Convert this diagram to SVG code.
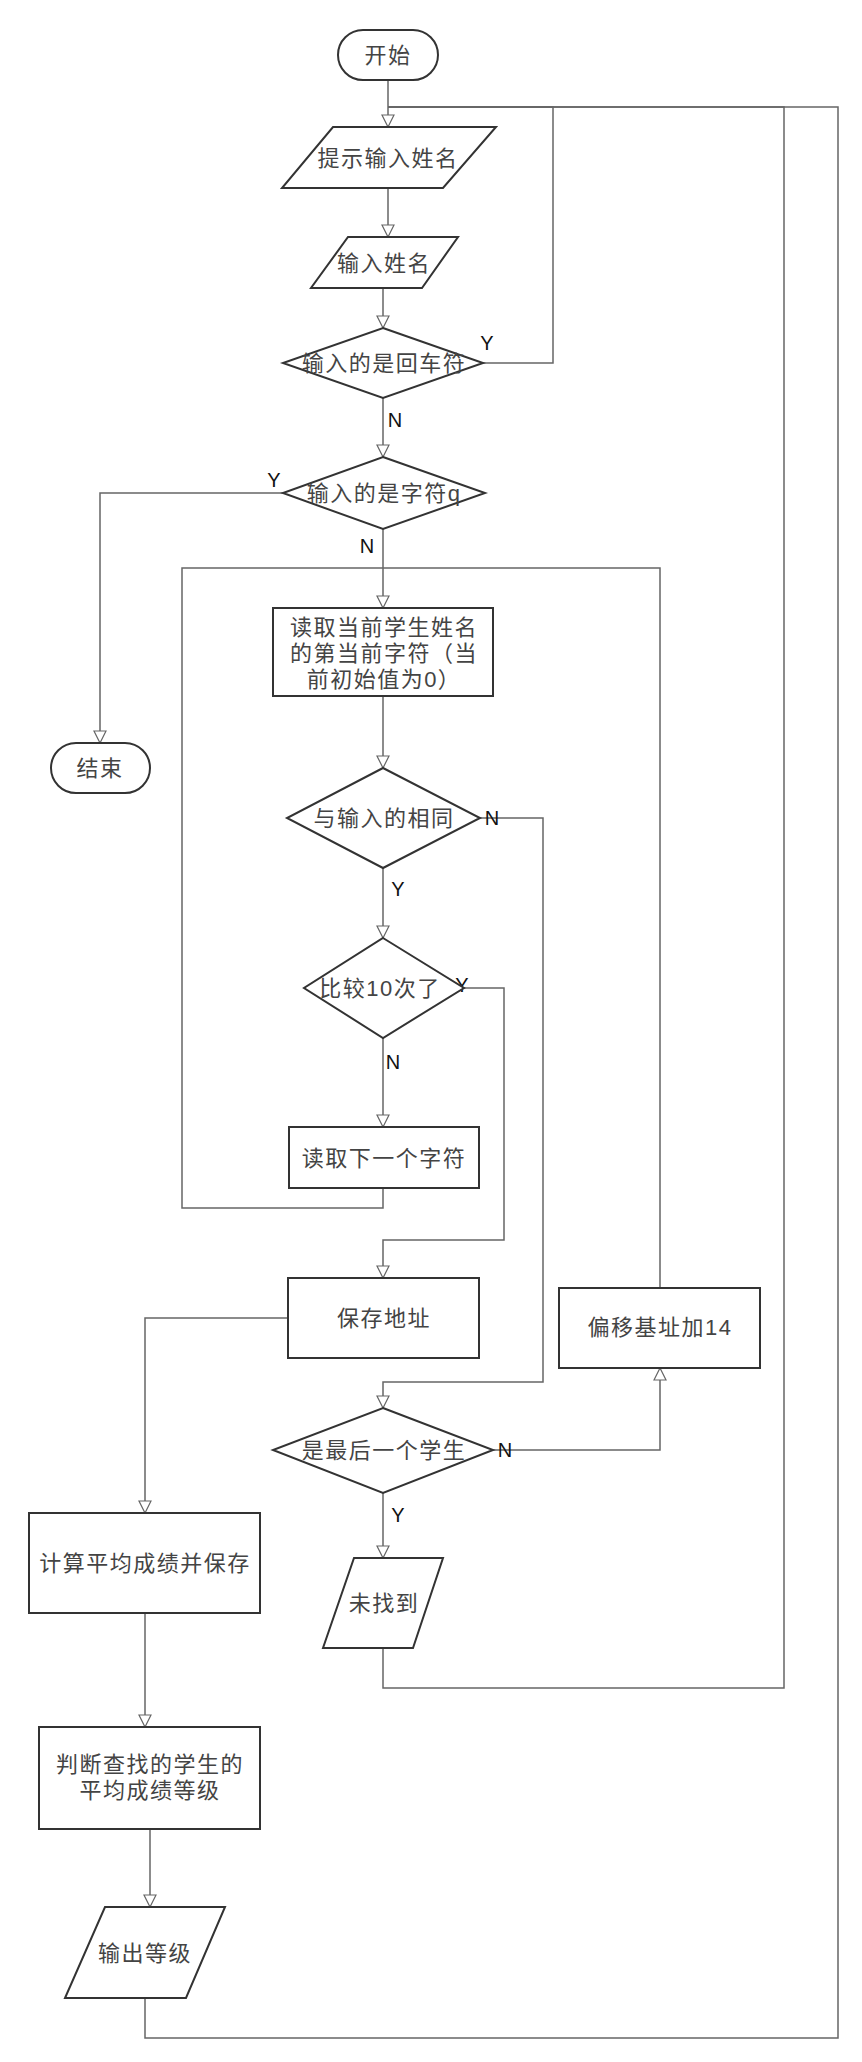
<svg xmlns="http://www.w3.org/2000/svg" width="862" height="2062" viewBox="0 0 862 2062">
<defs>
<marker id="arr" markerUnits="userSpaceOnUse" markerWidth="14" markerHeight="14" viewBox="-1 -1 14 14" refX="12" refY="6" orient="auto">
<path d="M0,0 L12,6 L0,12 z" fill="#fff" stroke="#666" stroke-width="1.2"/>
</marker>
<style>
.s{fill:#fff;stroke:#333;stroke-width:2}
.c{fill:none;stroke:#666;stroke-width:1.5}
.t{font-family:"Liberation Sans","Noto Sans CJK SC",sans-serif;font-size:22px;fill:#444;text-anchor:middle;dominant-baseline:central;letter-spacing:1.5px}
.l{font-family:"Liberation Sans",Arial,sans-serif;font-size:20px;fill:#111;text-anchor:middle;dominant-baseline:central}
</style>
</defs>
<rect width="862" height="2062" fill="#fff"/>
<g id="connectors">
<path class="c" d="M388,80 V127" marker-end="url(#arr)"/>
<path class="c" d="M388,188 V237" marker-end="url(#arr)"/>
<path class="c" d="M383,288 V328" marker-end="url(#arr)"/>
<path class="c" d="M483,363 H553 V107 H388"/>
<path class="c" d="M383,398 V457" marker-end="url(#arr)"/>
<path class="c" d="M283,493 H100 V743" marker-end="url(#arr)"/>
<path class="c" d="M383,529 V608" marker-end="url(#arr)"/>
<path class="c" d="M383,696 V768" marker-end="url(#arr)"/>
<path class="c" d="M383,868 V938" marker-end="url(#arr)"/>
<path class="c" d="M480,818 H543 V1382 H383 V1408" marker-end="url(#arr)"/>
<path class="c" d="M383,1038 V1127" marker-end="url(#arr)"/>
<path class="c" d="M464,988 H504 V1240 H383 V1278" marker-end="url(#arr)"/>
<path class="c" d="M383,1188 V1208 H182 V568 H383"/>
<path class="c" d="M288,1318 H145 V1513" marker-end="url(#arr)"/>
<path class="c" d="M145,1613 V1727" marker-end="url(#arr)"/>
<path class="c" d="M150,1829 V1907" marker-end="url(#arr)"/>
<path class="c" d="M145,1998 V2038 H838 V107 H388"/>
<path class="c" d="M493,1450 H660 V1368" marker-end="url(#arr)"/>
<path class="c" d="M660,1288 V568 H383"/>
<path class="c" d="M383,1493 V1558" marker-end="url(#arr)"/>
<path class="c" d="M383,1648 V1688 H784 V107 H388"/>
<text class="l" x="487" y="343">Y</text>
<text class="l" x="395" y="420">N</text>
<text class="l" x="274" y="480">Y</text>
<text class="l" x="367" y="546">N</text>
<text class="l" x="492" y="818">N</text>
<text class="l" x="398" y="889">Y</text>
<text class="l" x="462" y="985">Y</text>
<text class="l" x="393" y="1062">N</text>
<text class="l" x="505" y="1450">N</text>
<text class="l" x="398" y="1515">Y</text>
</g>
<g id="start">
<rect class="s" x="338" y="30" width="100" height="50" rx="25"/>
<text class="t" x="388" y="55">开始</text>
</g>
<g id="prompt">
<polygon class="s" points="333,127 496,127 443,188 282,188"/>
<text class="t" x="388" y="158">提示输入姓名</text>
</g>
<g id="inputName">
<polygon class="s" points="348,237 458,237 422,288 311,288"/>
<text class="t" x="384" y="263">输入姓名</text>
</g>
<g id="isEnter">
<polygon class="s" points="383,328 483,363 383,398 283,363"/>
<text class="t" x="384" y="363">输入的是回车符</text>
</g>
<g id="isQ">
<polygon class="s" points="383,457 485,493 383,529 283,493"/>
<text class="t" x="384" y="493">输入的是字符q</text>
</g>
<g id="end">
<rect class="s" x="51" y="743" width="99" height="50" rx="25"/>
<text class="t" x="100" y="768">结束</text>
</g>
<g id="readChar">
<rect class="s" x="273" y="608" width="220" height="88"/>
<text class="t" x="384" y="627">读取当前学生姓名</text>
<text class="t" x="384" y="653">的第当前字符（当</text>
<text class="t" x="384" y="679">前初始值为0）</text>
</g>
<g id="same">
<polygon class="s" points="383,768 480,818 383,868 287,818"/>
<text class="t" x="384" y="818">与输入的相同</text>
</g>
<g id="cmp10">
<polygon class="s" points="383,938 464,988 383,1038 304,988"/>
<text class="t" x="380" y="988">比较10次了</text>
</g>
<g id="readNext">
<rect class="s" x="289" y="1127" width="190" height="61"/>
<text class="t" x="384" y="1158">读取下一个字符</text>
</g>
<g id="saveAddr">
<rect class="s" x="288" y="1278" width="191" height="80"/>
<text class="t" x="384" y="1318">保存地址</text>
</g>
<g id="offset">
<rect class="s" x="559" y="1288" width="201" height="80"/>
<text class="t" x="660" y="1327">偏移基址加14</text>
</g>
<g id="isLast">
<polygon class="s" points="383,1408 493,1450 383,1493 273,1450"/>
<text class="t" x="384" y="1450">是最后一个学生</text>
</g>
<g id="notFound">
<polygon class="s" points="354,1558 443,1558 413,1648 323,1648"/>
<text class="t" x="384" y="1603">未找到</text>
</g>
<g id="calcAvg">
<rect class="s" x="29" y="1513" width="231" height="100"/>
<text class="t" x="145" y="1563">计算平均成绩并保存</text>
</g>
<g id="judge">
<rect class="s" x="39" y="1727" width="221" height="102"/>
<text class="t" x="150" y="1764">判断查找的学生的</text>
<text class="t" x="150" y="1790">平均成绩等级</text>
</g>
<g id="output">
<polygon class="s" points="105,1907 225,1907 186,1998 65,1998"/>
<text class="t" x="145" y="1953">输出等级</text>
</g>
</svg>
